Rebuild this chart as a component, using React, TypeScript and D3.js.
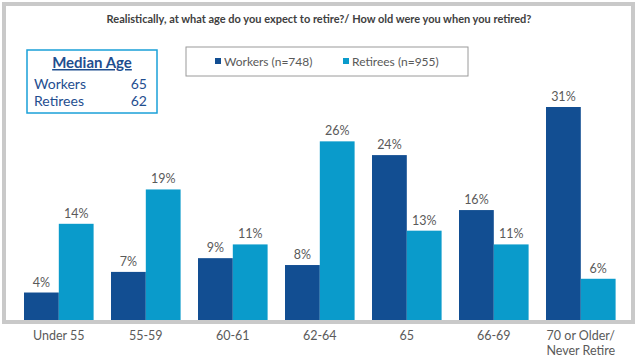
import React from "react";
import * as d3 from "d3";

const categories = ["Under 55", "55-59", "60-61", "62-64", "65", "66-69", "70 or Older/\nNever Retire"];
const workers = [4, 7, 9, 8, 24, 16, 31];
const retirees = [14, 19, 11, 26, 13, 11, 6];
const seriesNames = ["Workers (n=748)", "Retirees (n=955)"];
const medianLabels = ["Workers", "Retirees"];
const medianValues = [65, 62];
const title = "Realistically, at what age do you expect to retire?/ How old were you when you retired?";

const W = 637;
const H = 358;
const COLORS = ["#124e92", "#0a9bcb"];
const FONT = "'Lato', 'Open Sans', sans-serif";

export default function App() {
  const x = d3.scaleBand<string>().domain(categories).range([6.6, 633]).paddingInner(0.2).paddingOuter(0.2);
  const inner = d3.scaleBand<number>().domain([0, 1]).range([0, x.bandwidth()]);
  const y = d3.scaleLinear().domain([0, 31]).range([320, 107]);
  const series = [workers, retirees];

  return (
    <svg width={W} height={H} style={{ position: "absolute", left: 0, top: 0, fontFamily: FONT }}>
      <rect x={0} y={0} width={W} height={H} fill="#fff" />
      <rect x={4} y={4} width={629} height={318} fill="none" stroke="#c9c9c9" strokeWidth={4} />
      <text x={319} y={23} textAnchor="middle" fontSize={11} fontWeight="bold" fill="#404040">{title}</text>

      {/* Median box */}
      <rect x={27} y={50} width={130} height={63} fill="#fff" stroke="#1aa0d8" strokeWidth={1.5} />
      <text x={92} y={68} textAnchor="middle" fontSize={15} fontWeight="bold" fill="#1f4e8f" textDecoration="underline">Median Age</text>
      {medianLabels.map((m, i) => (
        <g key={m}>
          <text x={34} y={89 + i * 17} fontSize={14} fill="#1f4e8f">{m}</text>
          <text x={147} y={89 + i * 17} fontSize={14} fill="#1f4e8f" textAnchor="end">{medianValues[i]}</text>
        </g>
      ))}

      {/* Legend */}
      <rect x={186} y={47} width={282} height={29} fill="#fff" stroke="#9a9a9a" strokeWidth={1} />
      {seriesNames.map((s, i) => (
        <g key={s} transform={`translate(${215 + i * 128},0)`}>
          <rect x={0} y={58} width={6} height={6} fill={COLORS[i]} />
          <text x={9} y={66} fontSize={12} fill="#595959">{s}</text>
        </g>
      ))}

      {/* Bars */}
      {categories.map((c, ci) => (
        <g key={c} transform={`translate(${x(c)},0)`}>
          {series.map((vals, si) => {
            const v = vals[ci];
            const bx = inner(si)!;
            return (
              <g key={si}>
                <rect x={bx} y={y(v)} width={inner.bandwidth()} height={y(0) - y(v)} fill={COLORS[si]} />
                <text x={bx + inner.bandwidth() / 2} y={y(v) - 6} textAnchor="middle" fontSize={12.5} fill="#5a5a5a">{v}%</text>
              </g>
            );
          })}
          {c.split("\n").map((line, li) => (
            <text key={li} x={x.bandwidth() / 2} y={340 + li * 15} textAnchor="middle" fontSize={12.5} fill="#5a5a5a">{line}</text>
          ))}
        </g>
      ))}
    </svg>
  );
}
